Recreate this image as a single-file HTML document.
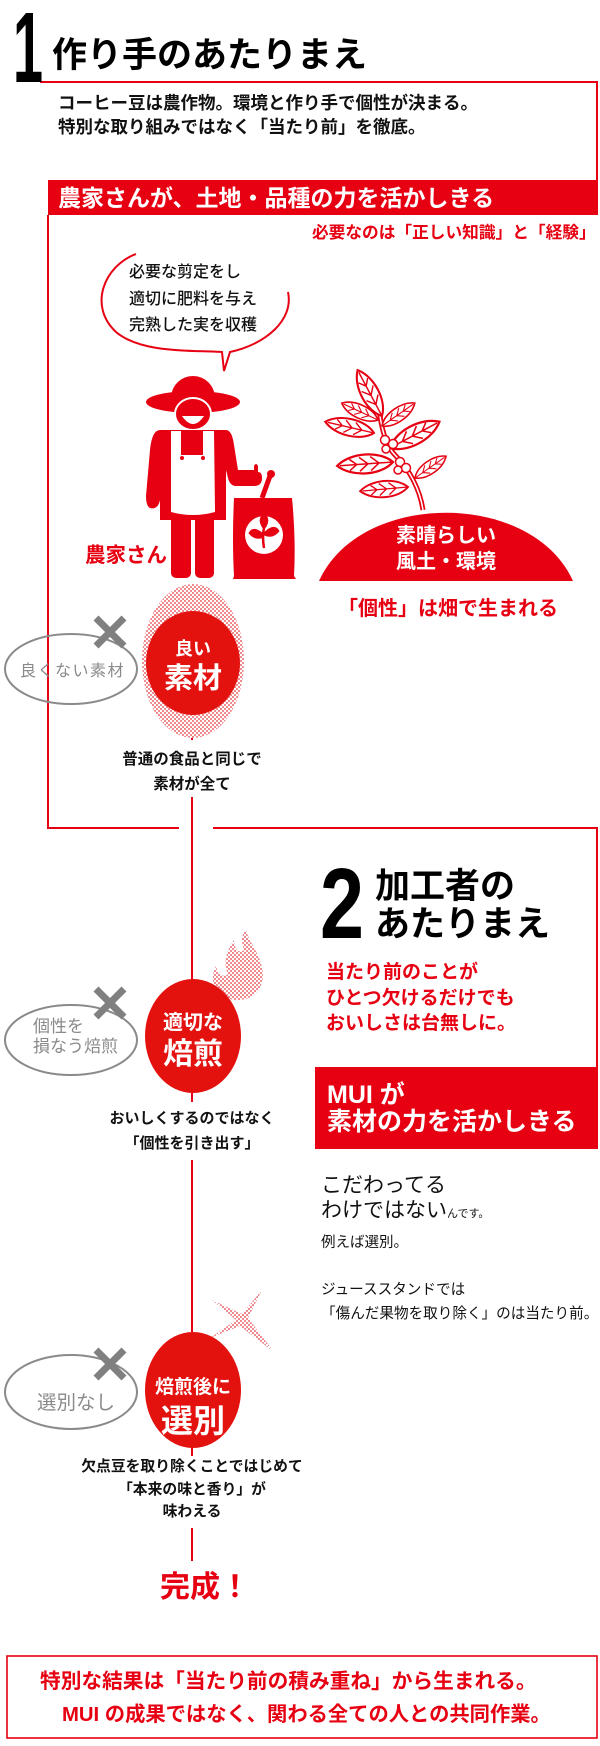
<!DOCTYPE html>
<html><head><meta charset="utf-8">
<style>
*{margin:0;padding:0;box-sizing:border-box}
body{width:600px;height:1746px;position:relative;background:#fff;overflow:hidden;font-family:"Liberation Sans","Noto Sans CJK JP",sans-serif;color:#111}
.t{position:absolute;white-space:nowrap;font-weight:700}
.c{text-align:center}
.r{color:#e60012}
.w{color:#fff}
.g{color:#8a8a8a;font-weight:400}
</style></head><body>
<svg width="600" height="1746" style="position:absolute;left:0;top:0">
<defs>
<pattern id="hp" width="4" height="4" patternUnits="userSpaceOnUse">
<rect width="4" height="4" fill="#fff"/><rect width="2" height="2" fill="#ef8a8f"/><rect x="2" y="2" width="2" height="2" fill="#ef8a8f"/>
</pattern>
<g id="leaf"><path d="M0,0 C9,-9 30,-9 40,0 C30,9 9,9 0,0 Z" fill="#fff" stroke="#e60012" stroke-width="1.6"/><path d="M0,0 L38,0 M10,0 L16,-5 M18,0 L24,-5 M26,0 L31,-4 M10,0 L16,5 M18,0 L24,5 M26,0 L31,4" stroke="#e60012" stroke-width="1.1" fill="none"/></g>
<g id="xm"><path d="M-14,-14 L14,14 M14,-14 L-14,14" stroke="#808080" stroke-width="7"/></g>
</defs>
<g stroke="#e60012" stroke-width="2" fill="none">
<path d="M40,82 H597 V180"/>
<path d="M48,215 V828 H179"/>
<path d="M213,828 H597 V1067"/>
<path d="M192,715 V740 M192,797 V980 M192,1093 V1102 M192,1160 V1332 M192,1447 V1456 M192,1528 V1561"/>
</g>
<text x="13" y="82" font-family="Liberation Sans" font-weight="700" font-size="100" fill="#000" textLength="30" lengthAdjust="spacingAndGlyphs">1</text>
<rect x="48" y="180" width="550" height="35" fill="#e60012"/>
<path d="M136,254 C104,266 88,306 116,332 C142,354 196,350 222,352 L224,371 L230,352 C266,344 294,320 288,292" fill="none" stroke="#e60012" stroke-width="2"/>
<g fill="#e60012">
<circle cx="193" cy="398" r="22"/>
<ellipse cx="193" cy="402" rx="47" ry="11"/>
<ellipse cx="193" cy="414" rx="18" ry="16" stroke="#fff" stroke-width="2"/>
<path d="M182,416 Q193,432 204,416 Z" fill="#fff"/>
<path d="M160,430 H226 Q232,430 234,445 L238,470 H254 V466 Q256,462 258,466 V472 Q262,472 262,478 Q262,486 254,486 H236 Q230,486 228,478 L226,470 V520 H160 V500 Q158,510 150,508 Q146,506 146,496 L150,450 Q152,430 160,430 Z"/>
<rect x="171" y="512" width="20" height="66" rx="5"/>
<rect x="195" y="512" width="19" height="66" rx="5"/>
<path d="M171,431 H214 L215,512 Q193,518 171,512 Z" fill="#fff"/>
<rect x="181" y="431" width="22" height="24"/>
<circle cx="182" cy="458" r="2"/><circle cx="203" cy="458" r="2"/>
<path d="M234,498 H292 Q296,540 294,576 L296,579 H233 L234,576 Q232,540 234,498 Z"/>
<path d="M262,498 L270,476" stroke="#e60012" stroke-width="5"/>
<circle cx="271" cy="474" r="4"/>
<circle cx="264" cy="535" r="19" fill="#fff"/>
<path d="M264,548 Q262,536 264,528 M264,536 Q254,526 250,533 Q256,540 264,536 M264,534 Q274,524 278,531 Q272,538 264,534 M264,528 Q258,520 264,514 Q270,520 264,528" stroke="#e60012" stroke-width="2.5" fill="#e60012"/>
</g>
<path d="M423,510 C420,490 410,470 395,455 C385,445 380,425 378,398" fill="none" stroke="#e60012" stroke-width="5"/>
<path d="M423,510 C420,490 410,470 395,455 C385,445 380,425 378,398" fill="none" stroke="#fff" stroke-width="1.5"/>
<use href="#leaf" transform="translate(382,416) rotate(-118) scale(1.3)"/>
<use href="#leaf" transform="translate(378,420) rotate(-155) scale(1.0)"/>
<use href="#leaf" transform="translate(382,426) rotate(-35) scale(1.0)"/>
<use href="#leaf" transform="translate(374,433) rotate(-167) scale(1.25)"/>
<use href="#leaf" transform="translate(390,448) rotate(-28) scale(1.4)"/>
<use href="#leaf" transform="translate(393,462) rotate(176) scale(1.4)"/>
<use href="#leaf" transform="translate(415,478) rotate(-35) scale(0.95)"/>
<use href="#leaf" transform="translate(408,487) rotate(175) scale(1.2)"/>
<g fill="#fff" stroke="#e60012" stroke-width="1.5">
<circle cx="385" cy="440" r="4.5"/><circle cx="393" cy="444" r="4.5"/><circle cx="386" cy="449" r="4"/><circle cx="400" cy="462" r="4.5"/><circle cx="406" cy="468" r="4.5"/><circle cx="398" cy="470" r="4"/>
</g>
<path d="M319,581 C360,490 532,490 573,581 Z" fill="#e60012"/>
<ellipse cx="193" cy="661" rx="51" ry="77" fill="url(#hp)"/>
<ellipse cx="193" cy="663" rx="47" ry="52" fill="#e3120f"/>
<ellipse cx="71" cy="669" rx="66" ry="35" fill="none" stroke="#8a8a8a" stroke-width="2"/>
<use href="#xm" transform="translate(110,632)"/>
<path d="M238,1000 C215,1000 208,980 216,966 C218,975 224,978 228,974 C222,962 228,948 234,940 C234,950 240,954 244,950 C242,944 240,936 246,930 C250,945 262,955 263,975 C263,990 252,1000 238,1000 Z" fill="url(#hp)"/>
<ellipse cx="193" cy="1036" rx="48" ry="57" fill="#e3120f"/>
<ellipse cx="71" cy="1040" rx="66" ry="35" fill="none" stroke="#8a8a8a" stroke-width="2"/>
<use href="#xm" transform="translate(110,1003)"/>
<text x="320" y="938" font-family="Liberation Sans" font-weight="700" font-size="100" fill="#000" textLength="44" lengthAdjust="spacingAndGlyphs">2</text>
<rect x="315" y="1067" width="283" height="82" fill="#e60012"/>
<path d="M262,1290 L248,1318 L274,1352 L240,1326 L210,1338 L236,1320 L212,1300 L242,1314 Z" fill="url(#hp)"/>
<ellipse cx="193" cy="1390" rx="48" ry="58" fill="#e3120f"/>
<ellipse cx="71" cy="1392" rx="66" ry="37" fill="none" stroke="#8a8a8a" stroke-width="2"/>
<use href="#xm" transform="translate(110,1364)"/>
<rect x="7" y="1656" width="590" height="82" fill="none" stroke="#e60012" stroke-width="1.6"/>
</svg>

<div class="t" style="left:52px;top:36px;font-size:35px;line-height:40px;color:#000">作り手のあたりまえ</div>
<div class="t" style="left:58px;top:91px;font-size:17.5px;line-height:24px;color:#111">コーヒー豆は農作物。環境と作り手で個性が決まる。<br>特別な取り組みではなく「当たり前」を徹底。</div>
<div class="t w" style="left:58px;top:184px;font-size:23px;line-height:28px">農家さんが、土地・品種の力を活かしきる</div>
<div class="t r" style="left:312px;top:222px;font-size:16.7px;line-height:22px">必要なのは「正しい知識」と「経験」</div>
<div class="t" style="left:129px;top:260px;font-size:16px;line-height:26.5px;font-weight:500;color:#111">必要な剪定をし<br>適切に肥料を与え<br>完熟した実を収穫</div>
<div class="t r" style="left:85px;top:543px;font-size:20.5px;line-height:26px">農家さん</div>
<div class="t w c" style="left:346px;top:523px;width:200px;font-size:20px;line-height:26px">素晴らしい<br>風土・環境</div>
<div class="t r" style="left:338px;top:596px;font-size:20px;line-height:26px">「個性」は畑で生まれる</div>

<div class="t w c" style="left:143px;top:638px;width:100px;font-size:18px;line-height:22px">良い</div>
<div class="t w c" style="left:143px;top:661px;width:100px;font-size:29px;line-height:36px">素材</div>
<div class="t g" style="left:20px;top:660px;font-size:16px;line-height:24px;letter-spacing:1.5px">良くない素材</div>
<div class="t c" style="left:92px;top:747px;width:200px;font-size:15.5px;line-height:25px">普通の食品と同じで<br>素材が全て</div>

<div class="t" style="left:375px;top:868px;font-size:35px;line-height:38px;color:#000">加工者の<br>あたりまえ</div>
<div class="t r" style="left:326px;top:960px;font-size:19px;line-height:25.5px">当たり前のことが<br>ひとつ欠けるだけでも<br>おいしさは台無しに。</div>

<div class="t w c" style="left:143px;top:1011px;width:100px;font-size:20px;line-height:24px">適切な</div>
<div class="t w c" style="left:143px;top:1037px;width:100px;font-size:30px;line-height:36px">焙煎</div>
<div class="t g" style="left:33px;top:1017px;font-size:17px;line-height:20px">個性を<br>損なう焙煎</div>
<div class="t c" style="left:72px;top:1106px;width:240px;font-size:15px;line-height:25px">おいしくするのではなく<br>「個性を引き出す」</div>

<div class="t w" style="left:327px;top:1082px;font-size:25px;line-height:27px">MUI が<br>素材の力を活かしきる</div>
<div class="t" style="left:321px;top:1173px;font-size:21px;line-height:25px;font-weight:400;color:#111">こだわってる<br>わけではない<span style="font-size:11px">んです。</span></div>
<div class="t" style="left:321px;top:1233px;font-size:14.5px;line-height:20px;font-weight:400">例えば選別。</div>
<div class="t" style="left:321px;top:1278px;font-size:14.6px;line-height:24px;font-weight:400">ジューススタンドでは<br>「傷んだ果物を取り除く」のは当たり前。</div>

<div class="t w c" style="left:143px;top:1376px;width:100px;font-size:19px;line-height:24px">焙煎後に</div>
<div class="t w c" style="left:143px;top:1402px;width:100px;font-size:32px;line-height:38px">選別</div>
<div class="t g" style="left:37px;top:1390px;font-size:19.5px;line-height:26px">選別なし</div>
<div class="t c" style="left:42px;top:1456px;width:300px;font-size:14.8px;line-height:22.5px">欠点豆を取り除くことではじめて<br>「本来の味と香り」が<br>味わえる</div>

<div class="t r" style="left:160px;top:1570px;font-size:30px;line-height:36px">完成！</div>
<div class="t r" style="left:40px;top:1669px;font-size:20.7px;line-height:26px">特別な結果は「当たり前の積み重ね」から生まれる。</div>
<div class="t r" style="left:62px;top:1702px;font-size:20.3px;line-height:26px">MUI の成果ではなく、関わる全ての人との共同作業。</div>
</body></html>
